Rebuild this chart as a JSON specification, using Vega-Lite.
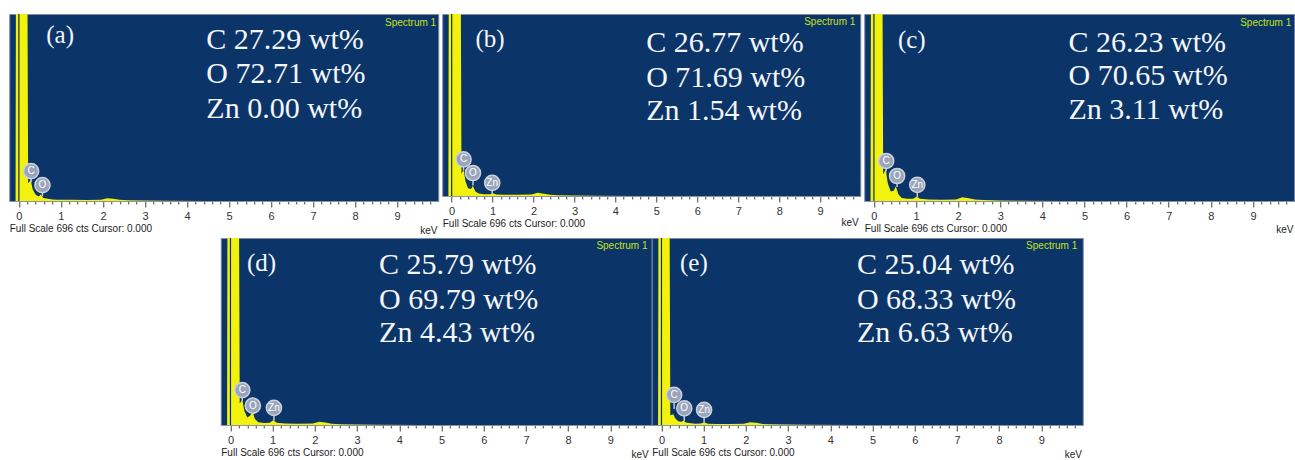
{
"$schema": "https://vega.github.io/schema/vega-lite/v6.json",
"padding": {"left": 8, "top": 12, "right": 0, "bottom": 0},
"background": "#ffffff",
"datasets": {
"zero": [{"kev": 0}],
"spectra": [
{"p":"a","kev":-0.08,"cts":0},{"p":"a","kev":-0.07,"cts":900},{"p":"a","kev":0.20,"cts":900},{"p":"a","kev":0.22,"cts":66},{"p":"a","kev":0.28,"cts":78},{"p":"a","kev":0.33,"cts":43},{"p":"a","kev":0.40,"cts":23},{"p":"a","kev":0.47,"cts":17},{"p":"a","kev":0.52,"cts":24},{"p":"a","kev":0.58,"cts":11},{"p":"a","kev":0.66,"cts":9},{"p":"a","kev":0.80,"cts":6},{"p":"a","kev":0.93,"cts":5},{"p":"a","kev":1.01,"cts":5},{"p":"a","kev":1.10,"cts":5},{"p":"a","kev":1.30,"cts":5},{"p":"a","kev":1.60,"cts":4},{"p":"a","kev":1.95,"cts":5},{"p":"a","kev":2.10,"cts":10},{"p":"a","kev":2.25,"cts":8},{"p":"a","kev":2.40,"cts":5},{"p":"a","kev":2.60,"cts":3},{"p":"a","kev":3.00,"cts":2},{"p":"a","kev":3.50,"cts":1},{"p":"a","kev":4.50,"cts":0},{"p":"a","kev":9.98,"cts":0},
{"p":"b","kev":-0.08,"cts":0},{"p":"b","kev":-0.07,"cts":900},{"p":"b","kev":0.22,"cts":900},{"p":"b","kev":0.24,"cts":85},{"p":"b","kev":0.29,"cts":100},{"p":"b","kev":0.34,"cts":55},{"p":"b","kev":0.40,"cts":30},{"p":"b","kev":0.47,"cts":27},{"p":"b","kev":0.52,"cts":38},{"p":"b","kev":0.58,"cts":17},{"p":"b","kev":0.66,"cts":10},{"p":"b","kev":0.80,"cts":7},{"p":"b","kev":0.93,"cts":7},{"p":"b","kev":1.01,"cts":10},{"p":"b","kev":1.10,"cts":6},{"p":"b","kev":1.30,"cts":5},{"p":"b","kev":1.60,"cts":5},{"p":"b","kev":1.95,"cts":6},{"p":"b","kev":2.10,"cts":12},{"p":"b","kev":2.25,"cts":9},{"p":"b","kev":2.40,"cts":5},{"p":"b","kev":2.60,"cts":3},{"p":"b","kev":3.00,"cts":2},{"p":"b","kev":3.50,"cts":1},{"p":"b","kev":4.50,"cts":0},{"p":"b","kev":9.98,"cts":0},
{"p":"c","kev":-0.08,"cts":0},{"p":"c","kev":-0.07,"cts":900},{"p":"c","kev":0.20,"cts":900},{"p":"c","kev":0.22,"cts":100},{"p":"c","kev":0.28,"cts":118},{"p":"c","kev":0.33,"cts":65},{"p":"c","kev":0.40,"cts":35},{"p":"c","kev":0.47,"cts":38},{"p":"c","kev":0.52,"cts":55},{"p":"c","kev":0.58,"cts":25},{"p":"c","kev":0.66,"cts":11},{"p":"c","kev":0.80,"cts":8},{"p":"c","kev":0.93,"cts":8},{"p":"c","kev":1.01,"cts":16},{"p":"c","kev":1.10,"cts":8},{"p":"c","kev":1.30,"cts":6},{"p":"c","kev":1.60,"cts":5},{"p":"c","kev":1.95,"cts":6},{"p":"c","kev":2.10,"cts":14},{"p":"c","kev":2.25,"cts":10},{"p":"c","kev":2.40,"cts":6},{"p":"c","kev":2.60,"cts":4},{"p":"c","kev":3.00,"cts":2},{"p":"c","kev":3.50,"cts":1},{"p":"c","kev":4.50,"cts":0},{"p":"c","kev":9.98,"cts":0},
{"p":"d","kev":-0.08,"cts":0},{"p":"d","kev":-0.07,"cts":900},{"p":"d","kev":0.20,"cts":900},{"p":"d","kev":0.22,"cts":80},{"p":"d","kev":0.28,"cts":95},{"p":"d","kev":0.33,"cts":52},{"p":"d","kev":0.40,"cts":28},{"p":"d","kev":0.47,"cts":35},{"p":"d","kev":0.52,"cts":50},{"p":"d","kev":0.58,"cts":22},{"p":"d","kev":0.66,"cts":10},{"p":"d","kev":0.80,"cts":7},{"p":"d","kev":0.93,"cts":8},{"p":"d","kev":1.01,"cts":18},{"p":"d","kev":1.10,"cts":8},{"p":"d","kev":1.30,"cts":6},{"p":"d","kev":1.60,"cts":5},{"p":"d","kev":1.95,"cts":6},{"p":"d","kev":2.10,"cts":12},{"p":"d","kev":2.25,"cts":9},{"p":"d","kev":2.40,"cts":5},{"p":"d","kev":2.60,"cts":3},{"p":"d","kev":3.00,"cts":2},{"p":"d","kev":3.50,"cts":1},{"p":"d","kev":4.50,"cts":0},{"p":"d","kev":9.98,"cts":0},
{"p":"e","kev":-0.08,"cts":0},{"p":"e","kev":-0.07,"cts":900},{"p":"e","kev":0.19,"cts":900},{"p":"e","kev":0.21,"cts":36},{"p":"e","kev":0.28,"cts":40},{"p":"e","kev":0.33,"cts":24},{"p":"e","kev":0.40,"cts":14},{"p":"e","kev":0.47,"cts":12},{"p":"e","kev":0.52,"cts":16},{"p":"e","kev":0.58,"cts":9},{"p":"e","kev":0.66,"cts":7},{"p":"e","kev":0.80,"cts":5},{"p":"e","kev":0.93,"cts":6},{"p":"e","kev":1.01,"cts":10},{"p":"e","kev":1.10,"cts":5},{"p":"e","kev":1.30,"cts":4},{"p":"e","kev":1.60,"cts":4},{"p":"e","kev":1.95,"cts":5},{"p":"e","kev":2.10,"cts":10},{"p":"e","kev":2.25,"cts":8},{"p":"e","kev":2.40,"cts":4},{"p":"e","kev":2.60,"cts":3},{"p":"e","kev":3.00,"cts":2},{"p":"e","kev":3.50,"cts":1},{"p":"e","kev":4.50,"cts":0},{"p":"e","kev":9.98,"cts":0}
],
"markers": [
{"p":"a","el":"C","kev":0.29,"cts":111,"base":70},{"p":"a","el":"O","kev":0.56,"cts":59,"base":18},
{"p":"b","el":"C","kev":0.29,"cts":140,"base":98},{"p":"b","el":"O","kev":0.52,"cts":88,"base":40},{"p":"b","el":"Zn","kev":0.99,"cts":50,"base":8},
{"p":"c","el":"C","kev":0.29,"cts":149,"base":110},{"p":"c","el":"O","kev":0.55,"cts":93,"base":52},{"p":"c","el":"Zn","kev":1.03,"cts":60,"base":15},
{"p":"d","el":"C","kev":0.28,"cts":130,"base":90},{"p":"d","el":"O","kev":0.53,"cts":72,"base":40},{"p":"d","el":"Zn","kev":1.03,"cts":64,"base":16},
{"p":"e","el":"C","kev":0.30,"cts":112,"base":60},{"p":"e","el":"O","kev":0.54,"cts":62,"base":14},{"p":"e","el":"Zn","kev":1.01,"cts":56,"base":9}
],
"notes": [
{"p":"a","kind":"tag","text":"(a)","kev":0.65,"cts":618},
{"p":"a","kind":"big","text":"C 27.29 wt%","kev":4.46,"cts":599},
{"p":"a","kind":"big","text":"O 72.71 wt%","kev":4.46,"cts":473},
{"p":"a","kind":"big","text":"Zn 0.00 wt%","kev":4.46,"cts":342},
{"p":"a","kind":"spec","text":"Spectrum 1","kev":9.93,"cts":664},
{"p":"a","kind":"unit","text":"keV","kev":9.96,"cts":-112},
{"p":"b","kind":"tag","text":"(b)","kev":0.58,"cts":599},
{"p":"b","kind":"big","text":"C 26.77 wt%","kev":4.75,"cts":585},
{"p":"b","kind":"big","text":"O 71.69 wt%","kev":4.75,"cts":451},
{"p":"b","kind":"big","text":"Zn 1.54 wt%","kev":4.75,"cts":324},
{"p":"b","kind":"spec","text":"Spectrum 1","kev":9.86,"cts":665},
{"p":"b","kind":"unit","text":"keV","kev":9.94,"cts":-103},
{"p":"c","kind":"tag","text":"(c)","kev":0.57,"cts":600},
{"p":"c","kind":"big","text":"C 26.23 wt%","kev":4.62,"cts":588},
{"p":"c","kind":"big","text":"O 70.65 wt%","kev":4.62,"cts":464},
{"p":"c","kind":"big","text":"Zn 3.11 wt%","kev":4.62,"cts":339},
{"p":"c","kind":"spec","text":"Spectrum 1","kev":9.91,"cts":664},
{"p":"c","kind":"unit","text":"keV","kev":9.96,"cts":-108},
{"p":"d","kind":"tag","text":"(d)","kev":0.39,"cts":602},
{"p":"d","kind":"big","text":"C 25.79 wt%","kev":3.52,"cts":595},
{"p":"d","kind":"big","text":"O 69.79 wt%","kev":3.52,"cts":465},
{"p":"d","kind":"big","text":"Zn 4.43 wt%","kev":3.52,"cts":341},
{"p":"d","kind":"spec","text":"Spectrum 1","kev":9.88,"cts":665},
{"p":"d","kind":"unit","text":"keV","kev":9.91,"cts":-112},
{"p":"e","kind":"tag","text":"(e)","kev":0.44,"cts":602},
{"p":"e","kind":"big","text":"C 25.04 wt%","kev":4.63,"cts":595},
{"p":"e","kind":"big","text":"O 68.33 wt%","kev":4.63,"cts":465},
{"p":"e","kind":"big","text":"Zn 6.63 wt%","kev":4.63,"cts":341},
{"p":"e","kind":"spec","text":"Spectrum 1","kev":9.85,"cts":665},
{"p":"e","kind":"unit","text":"keV","kev":9.96,"cts":-112}
]
},
"vconcat": [
{"hconcat": [
{"width": 429, "height": 187, "layer": [
{"data": {"name": "spectra"}, "transform": [{"filter": "datum.p === 'a'"}], "mark": {"type": "area", "color": "#f2f20c", "clip": true}, "encoding": {"x": {"field": "kev", "type": "quantitative", "scale": {"domain": [-0.23, 9.98], "nice": false, "zero": false}, "axis": {"values": [0,0.2,0.4,0.6,0.8,1,1.2,1.4,1.6,1.8,2,2.2,2.4,2.6,2.8,3,3.2,3.4,3.6,3.8,4,4.2,4.4,4.6,4.8,5,5.2,5.4,5.6,5.8,6,6.2,6.4,6.6,6.8,7,7.2,7.4,7.6,7.8,8,8.2,8.4,8.6,8.8,9,9.2,9.4,9.6,9.8], "tickCount": 200, "labelExpr": "datum.value % 1 === 0 ? format(datum.value, 'd') : ''", "tickSize": {"condition": {"test": "datum.value % 1 === 0", "value": 6}, "value": 3}, "title": "Full Scale 696 cts Cursor: 0.000"}}, "y": {"field": "cts", "type": "quantitative", "scale": {"domain": [0, 696], "nice": false}, "axis": null}}},
{"data": {"name": "zero"}, "mark": {"type": "rule", "color": "#0a2b5e", "strokeWidth": 1.2}, "encoding": {"x": {"field": "kev", "type": "quantitative"}}},
{"data": {"name": "markers"}, "transform": [{"filter": "datum.p === 'a'"}], "mark": {"type": "rule", "color": "#c5ccd8", "strokeWidth": 1.5}, "encoding": {"x": {"field": "kev", "type": "quantitative"}, "y": {"field": "cts", "type": "quantitative"}, "y2": {"field": "base"}}},
{"data": {"name": "markers"}, "transform": [{"filter": "datum.p === 'a'"}], "mark": {"type": "point", "shape": "circle", "filled": true, "size": 230, "fill": "#9aa5bb", "stroke": "#ccd2dc", "strokeWidth": 1.5, "opacity": 1}, "encoding": {"x": {"field": "kev", "type": "quantitative"}, "y": {"field": "cts", "type": "quantitative"}}},
{"data": {"name": "markers"}, "transform": [{"filter": "datum.p === 'a'"}], "mark": {"type": "text", "font": "Liberation Sans", "fontSize": 10, "color": "#ffffff"}, "encoding": {"x": {"field": "kev", "type": "quantitative"}, "y": {"field": "cts", "type": "quantitative"}, "text": {"field": "el"}}},
{"data": {"name": "notes"}, "transform": [{"filter": "datum.p === 'a' && datum.kind === 'big'"}], "mark": {"type": "text", "font": "Liberation Serif", "fontSize": 30, "color": "#f4f6f8", "align": "left", "baseline": "middle"}, "encoding": {"x": {"field": "kev", "type": "quantitative"}, "y": {"field": "cts", "type": "quantitative"}, "text": {"field": "text"}}},
{"data": {"name": "notes"}, "transform": [{"filter": "datum.p === 'a' && datum.kind === 'tag'"}], "mark": {"type": "text", "font": "Liberation Serif", "fontSize": 25, "color": "#f4f6f8", "align": "left", "baseline": "middle"}, "encoding": {"x": {"field": "kev", "type": "quantitative"}, "y": {"field": "cts", "type": "quantitative"}, "text": {"field": "text"}}},
{"data": {"name": "notes"}, "transform": [{"filter": "datum.p === 'a' && datum.kind === 'spec'"}], "mark": {"type": "text", "font": "Liberation Sans", "fontSize": 10, "color": "#c4e31a", "align": "right", "baseline": "middle"}, "encoding": {"x": {"field": "kev", "type": "quantitative"}, "y": {"field": "cts", "type": "quantitative"}, "text": {"field": "text"}}},
{"data": {"name": "notes"}, "transform": [{"filter": "datum.p === 'a' && datum.kind === 'unit'"}], "mark": {"type": "text", "font": "Liberation Sans", "fontSize": 10, "color": "#222222", "align": "right", "baseline": "middle"}, "encoding": {"x": {"field": "kev", "type": "quantitative"}, "y": {"field": "cts", "type": "quantitative"}, "text": {"field": "text"}}}
]},
{"width": 418, "height": 182, "layer": [
{"data": {"name": "spectra"}, "transform": [{"filter": "datum.p === 'b'"}], "mark": {"type": "area", "color": "#f2f20c", "clip": true}, "encoding": {"x": {"field": "kev", "type": "quantitative", "scale": {"domain": [-0.23, 9.98], "nice": false, "zero": false}, "axis": {"values": [0,0.2,0.4,0.6,0.8,1,1.2,1.4,1.6,1.8,2,2.2,2.4,2.6,2.8,3,3.2,3.4,3.6,3.8,4,4.2,4.4,4.6,4.8,5,5.2,5.4,5.6,5.8,6,6.2,6.4,6.6,6.8,7,7.2,7.4,7.6,7.8,8,8.2,8.4,8.6,8.8,9,9.2,9.4,9.6,9.8], "tickCount": 200, "labelExpr": "datum.value % 1 === 0 ? format(datum.value, 'd') : ''", "tickSize": {"condition": {"test": "datum.value % 1 === 0", "value": 6}, "value": 3}, "title": "Full Scale 696 cts Cursor: 0.000"}}, "y": {"field": "cts", "type": "quantitative", "scale": {"domain": [0, 696], "nice": false}, "axis": null}}},
{"data": {"name": "zero"}, "mark": {"type": "rule", "color": "#0a2b5e", "strokeWidth": 1.2}, "encoding": {"x": {"field": "kev", "type": "quantitative"}}},
{"data": {"name": "markers"}, "transform": [{"filter": "datum.p === 'b'"}], "mark": {"type": "rule", "color": "#c5ccd8", "strokeWidth": 1.5}, "encoding": {"x": {"field": "kev", "type": "quantitative"}, "y": {"field": "cts", "type": "quantitative"}, "y2": {"field": "base"}}},
{"data": {"name": "markers"}, "transform": [{"filter": "datum.p === 'b'"}], "mark": {"type": "point", "shape": "circle", "filled": true, "size": 230, "fill": "#9aa5bb", "stroke": "#ccd2dc", "strokeWidth": 1.5, "opacity": 1}, "encoding": {"x": {"field": "kev", "type": "quantitative"}, "y": {"field": "cts", "type": "quantitative"}}},
{"data": {"name": "markers"}, "transform": [{"filter": "datum.p === 'b'"}], "mark": {"type": "text", "font": "Liberation Sans", "fontSize": 10, "color": "#ffffff"}, "encoding": {"x": {"field": "kev", "type": "quantitative"}, "y": {"field": "cts", "type": "quantitative"}, "text": {"field": "el"}}},
{"data": {"name": "notes"}, "transform": [{"filter": "datum.p === 'b' && datum.kind === 'big'"}], "mark": {"type": "text", "font": "Liberation Serif", "fontSize": 30, "color": "#f4f6f8", "align": "left", "baseline": "middle"}, "encoding": {"x": {"field": "kev", "type": "quantitative"}, "y": {"field": "cts", "type": "quantitative"}, "text": {"field": "text"}}},
{"data": {"name": "notes"}, "transform": [{"filter": "datum.p === 'b' && datum.kind === 'tag'"}], "mark": {"type": "text", "font": "Liberation Serif", "fontSize": 25, "color": "#f4f6f8", "align": "left", "baseline": "middle"}, "encoding": {"x": {"field": "kev", "type": "quantitative"}, "y": {"field": "cts", "type": "quantitative"}, "text": {"field": "text"}}},
{"data": {"name": "notes"}, "transform": [{"filter": "datum.p === 'b' && datum.kind === 'spec'"}], "mark": {"type": "text", "font": "Liberation Sans", "fontSize": 10, "color": "#c4e31a", "align": "right", "baseline": "middle"}, "encoding": {"x": {"field": "kev", "type": "quantitative"}, "y": {"field": "cts", "type": "quantitative"}, "text": {"field": "text"}}},
{"data": {"name": "notes"}, "transform": [{"filter": "datum.p === 'b' && datum.kind === 'unit'"}], "mark": {"type": "text", "font": "Liberation Sans", "fontSize": 10, "color": "#222222", "align": "right", "baseline": "middle"}, "encoding": {"x": {"field": "kev", "type": "quantitative"}, "y": {"field": "cts", "type": "quantitative"}, "text": {"field": "text"}}}
]},
{"width": 430, "height": 187, "layer": [
{"data": {"name": "spectra"}, "transform": [{"filter": "datum.p === 'c'"}], "mark": {"type": "area", "color": "#f2f20c", "clip": true}, "encoding": {"x": {"field": "kev", "type": "quantitative", "scale": {"domain": [-0.23, 9.98], "nice": false, "zero": false}, "axis": {"values": [0,0.2,0.4,0.6,0.8,1,1.2,1.4,1.6,1.8,2,2.2,2.4,2.6,2.8,3,3.2,3.4,3.6,3.8,4,4.2,4.4,4.6,4.8,5,5.2,5.4,5.6,5.8,6,6.2,6.4,6.6,6.8,7,7.2,7.4,7.6,7.8,8,8.2,8.4,8.6,8.8,9,9.2,9.4,9.6,9.8], "tickCount": 200, "labelExpr": "datum.value % 1 === 0 ? format(datum.value, 'd') : ''", "tickSize": {"condition": {"test": "datum.value % 1 === 0", "value": 6}, "value": 3}, "title": "Full Scale 696 cts Cursor: 0.000"}}, "y": {"field": "cts", "type": "quantitative", "scale": {"domain": [0, 696], "nice": false}, "axis": null}}},
{"data": {"name": "zero"}, "mark": {"type": "rule", "color": "#0a2b5e", "strokeWidth": 1.2}, "encoding": {"x": {"field": "kev", "type": "quantitative"}}},
{"data": {"name": "markers"}, "transform": [{"filter": "datum.p === 'c'"}], "mark": {"type": "rule", "color": "#c5ccd8", "strokeWidth": 1.5}, "encoding": {"x": {"field": "kev", "type": "quantitative"}, "y": {"field": "cts", "type": "quantitative"}, "y2": {"field": "base"}}},
{"data": {"name": "markers"}, "transform": [{"filter": "datum.p === 'c'"}], "mark": {"type": "point", "shape": "circle", "filled": true, "size": 230, "fill": "#9aa5bb", "stroke": "#ccd2dc", "strokeWidth": 1.5, "opacity": 1}, "encoding": {"x": {"field": "kev", "type": "quantitative"}, "y": {"field": "cts", "type": "quantitative"}}},
{"data": {"name": "markers"}, "transform": [{"filter": "datum.p === 'c'"}], "mark": {"type": "text", "font": "Liberation Sans", "fontSize": 10, "color": "#ffffff"}, "encoding": {"x": {"field": "kev", "type": "quantitative"}, "y": {"field": "cts", "type": "quantitative"}, "text": {"field": "el"}}},
{"data": {"name": "notes"}, "transform": [{"filter": "datum.p === 'c' && datum.kind === 'big'"}], "mark": {"type": "text", "font": "Liberation Serif", "fontSize": 30, "color": "#f4f6f8", "align": "left", "baseline": "middle"}, "encoding": {"x": {"field": "kev", "type": "quantitative"}, "y": {"field": "cts", "type": "quantitative"}, "text": {"field": "text"}}},
{"data": {"name": "notes"}, "transform": [{"filter": "datum.p === 'c' && datum.kind === 'tag'"}], "mark": {"type": "text", "font": "Liberation Serif", "fontSize": 25, "color": "#f4f6f8", "align": "left", "baseline": "middle"}, "encoding": {"x": {"field": "kev", "type": "quantitative"}, "y": {"field": "cts", "type": "quantitative"}, "text": {"field": "text"}}},
{"data": {"name": "notes"}, "transform": [{"filter": "datum.p === 'c' && datum.kind === 'spec'"}], "mark": {"type": "text", "font": "Liberation Sans", "fontSize": 10, "color": "#c4e31a", "align": "right", "baseline": "middle"}, "encoding": {"x": {"field": "kev", "type": "quantitative"}, "y": {"field": "cts", "type": "quantitative"}, "text": {"field": "text"}}},
{"data": {"name": "notes"}, "transform": [{"filter": "datum.p === 'c' && datum.kind === 'unit'"}], "mark": {"type": "text", "font": "Liberation Sans", "fontSize": 10, "color": "#222222", "align": "right", "baseline": "middle"}, "encoding": {"x": {"field": "kev", "type": "quantitative"}, "y": {"field": "cts", "type": "quantitative"}, "text": {"field": "text"}}}
]}
], "spacing": 4, "bounds": "flush"},
{"hconcat": [
{"width": 431, "height": 187, "layer": [
{"data": {"name": "spectra"}, "transform": [{"filter": "datum.p === 'd'"}], "mark": {"type": "area", "color": "#f2f20c", "clip": true}, "encoding": {"x": {"field": "kev", "type": "quantitative", "scale": {"domain": [-0.23, 9.98], "nice": false, "zero": false}, "axis": {"values": [0,0.2,0.4,0.6,0.8,1,1.2,1.4,1.6,1.8,2,2.2,2.4,2.6,2.8,3,3.2,3.4,3.6,3.8,4,4.2,4.4,4.6,4.8,5,5.2,5.4,5.6,5.8,6,6.2,6.4,6.6,6.8,7,7.2,7.4,7.6,7.8,8,8.2,8.4,8.6,8.8,9,9.2,9.4,9.6,9.8], "tickCount": 200, "labelExpr": "datum.value % 1 === 0 ? format(datum.value, 'd') : ''", "tickSize": {"condition": {"test": "datum.value % 1 === 0", "value": 6}, "value": 3}, "title": "Full Scale 696 cts Cursor: 0.000"}}, "y": {"field": "cts", "type": "quantitative", "scale": {"domain": [0, 696], "nice": false}, "axis": null}}},
{"data": {"name": "zero"}, "mark": {"type": "rule", "color": "#0a2b5e", "strokeWidth": 1.2}, "encoding": {"x": {"field": "kev", "type": "quantitative"}}},
{"data": {"name": "markers"}, "transform": [{"filter": "datum.p === 'd'"}], "mark": {"type": "rule", "color": "#c5ccd8", "strokeWidth": 1.5}, "encoding": {"x": {"field": "kev", "type": "quantitative"}, "y": {"field": "cts", "type": "quantitative"}, "y2": {"field": "base"}}},
{"data": {"name": "markers"}, "transform": [{"filter": "datum.p === 'd'"}], "mark": {"type": "point", "shape": "circle", "filled": true, "size": 230, "fill": "#9aa5bb", "stroke": "#ccd2dc", "strokeWidth": 1.5, "opacity": 1}, "encoding": {"x": {"field": "kev", "type": "quantitative"}, "y": {"field": "cts", "type": "quantitative"}}},
{"data": {"name": "markers"}, "transform": [{"filter": "datum.p === 'd'"}], "mark": {"type": "text", "font": "Liberation Sans", "fontSize": 10, "color": "#ffffff"}, "encoding": {"x": {"field": "kev", "type": "quantitative"}, "y": {"field": "cts", "type": "quantitative"}, "text": {"field": "el"}}},
{"data": {"name": "notes"}, "transform": [{"filter": "datum.p === 'd' && datum.kind === 'big'"}], "mark": {"type": "text", "font": "Liberation Serif", "fontSize": 30, "color": "#f4f6f8", "align": "left", "baseline": "middle"}, "encoding": {"x": {"field": "kev", "type": "quantitative"}, "y": {"field": "cts", "type": "quantitative"}, "text": {"field": "text"}}},
{"data": {"name": "notes"}, "transform": [{"filter": "datum.p === 'd' && datum.kind === 'tag'"}], "mark": {"type": "text", "font": "Liberation Serif", "fontSize": 25, "color": "#f4f6f8", "align": "left", "baseline": "middle"}, "encoding": {"x": {"field": "kev", "type": "quantitative"}, "y": {"field": "cts", "type": "quantitative"}, "text": {"field": "text"}}},
{"data": {"name": "notes"}, "transform": [{"filter": "datum.p === 'd' && datum.kind === 'spec'"}], "mark": {"type": "text", "font": "Liberation Sans", "fontSize": 10, "color": "#c4e31a", "align": "right", "baseline": "middle"}, "encoding": {"x": {"field": "kev", "type": "quantitative"}, "y": {"field": "cts", "type": "quantitative"}, "text": {"field": "text"}}},
{"data": {"name": "notes"}, "transform": [{"filter": "datum.p === 'd' && datum.kind === 'unit'"}], "mark": {"type": "text", "font": "Liberation Sans", "fontSize": 10, "color": "#222222", "align": "right", "baseline": "middle"}, "encoding": {"x": {"field": "kev", "type": "quantitative"}, "y": {"field": "cts", "type": "quantitative"}, "text": {"field": "text"}}}
]},
{"width": 431, "height": 187, "layer": [
{"data": {"name": "spectra"}, "transform": [{"filter": "datum.p === 'e'"}], "mark": {"type": "area", "color": "#f2f20c", "clip": true}, "encoding": {"x": {"field": "kev", "type": "quantitative", "scale": {"domain": [-0.23, 9.98], "nice": false, "zero": false}, "axis": {"values": [0,0.2,0.4,0.6,0.8,1,1.2,1.4,1.6,1.8,2,2.2,2.4,2.6,2.8,3,3.2,3.4,3.6,3.8,4,4.2,4.4,4.6,4.8,5,5.2,5.4,5.6,5.8,6,6.2,6.4,6.6,6.8,7,7.2,7.4,7.6,7.8,8,8.2,8.4,8.6,8.8,9,9.2,9.4,9.6,9.8], "tickCount": 200, "labelExpr": "datum.value % 1 === 0 ? format(datum.value, 'd') : ''", "tickSize": {"condition": {"test": "datum.value % 1 === 0", "value": 6}, "value": 3}, "title": "Full Scale 696 cts Cursor: 0.000"}}, "y": {"field": "cts", "type": "quantitative", "scale": {"domain": [0, 696], "nice": false}, "axis": null}}},
{"data": {"name": "zero"}, "mark": {"type": "rule", "color": "#0a2b5e", "strokeWidth": 1.2}, "encoding": {"x": {"field": "kev", "type": "quantitative"}}},
{"data": {"name": "markers"}, "transform": [{"filter": "datum.p === 'e'"}], "mark": {"type": "rule", "color": "#c5ccd8", "strokeWidth": 1.5}, "encoding": {"x": {"field": "kev", "type": "quantitative"}, "y": {"field": "cts", "type": "quantitative"}, "y2": {"field": "base"}}},
{"data": {"name": "markers"}, "transform": [{"filter": "datum.p === 'e'"}], "mark": {"type": "point", "shape": "circle", "filled": true, "size": 230, "fill": "#9aa5bb", "stroke": "#ccd2dc", "strokeWidth": 1.5, "opacity": 1}, "encoding": {"x": {"field": "kev", "type": "quantitative"}, "y": {"field": "cts", "type": "quantitative"}}},
{"data": {"name": "markers"}, "transform": [{"filter": "datum.p === 'e'"}], "mark": {"type": "text", "font": "Liberation Sans", "fontSize": 10, "color": "#ffffff"}, "encoding": {"x": {"field": "kev", "type": "quantitative"}, "y": {"field": "cts", "type": "quantitative"}, "text": {"field": "el"}}},
{"data": {"name": "notes"}, "transform": [{"filter": "datum.p === 'e' && datum.kind === 'big'"}], "mark": {"type": "text", "font": "Liberation Serif", "fontSize": 30, "color": "#f4f6f8", "align": "left", "baseline": "middle"}, "encoding": {"x": {"field": "kev", "type": "quantitative"}, "y": {"field": "cts", "type": "quantitative"}, "text": {"field": "text"}}},
{"data": {"name": "notes"}, "transform": [{"filter": "datum.p === 'e' && datum.kind === 'tag'"}], "mark": {"type": "text", "font": "Liberation Serif", "fontSize": 25, "color": "#f4f6f8", "align": "left", "baseline": "middle"}, "encoding": {"x": {"field": "kev", "type": "quantitative"}, "y": {"field": "cts", "type": "quantitative"}, "text": {"field": "text"}}},
{"data": {"name": "notes"}, "transform": [{"filter": "datum.p === 'e' && datum.kind === 'spec'"}], "mark": {"type": "text", "font": "Liberation Sans", "fontSize": 10, "color": "#c4e31a", "align": "right", "baseline": "middle"}, "encoding": {"x": {"field": "kev", "type": "quantitative"}, "y": {"field": "cts", "type": "quantitative"}, "text": {"field": "text"}}},
{"data": {"name": "notes"}, "transform": [{"filter": "datum.p === 'e' && datum.kind === 'unit'"}], "mark": {"type": "text", "font": "Liberation Sans", "fontSize": 10, "color": "#222222", "align": "right", "baseline": "middle"}, "encoding": {"x": {"field": "kev", "type": "quantitative"}, "y": {"field": "cts", "type": "quantitative"}, "text": {"field": "text"}}}
]}
], "spacing": 0, "bounds": "flush"}
],
"spacing": -1,
"center": true,
"config": {
"view": {"fill": "#0b3468", "stroke": "#7d8aa6", "strokeWidth": 1},
"axisX": {"grid": false, "domain": true, "domainColor": "#8a94a8", "tickColor": "#444444", "tickWidth": 1, "labelFont": "Liberation Sans", "labelFontSize": 11, "labelColor": "#333333", "labelPadding": 3, "labelOverlap": false, "labelFlush": false, "titleFont": "Liberation Sans", "titleFontSize": 10, "titleFontWeight": "normal", "titleColor": "#222222", "titleAnchor": "start", "titleAlign": "left", "titlePadding": 2}
}
}
